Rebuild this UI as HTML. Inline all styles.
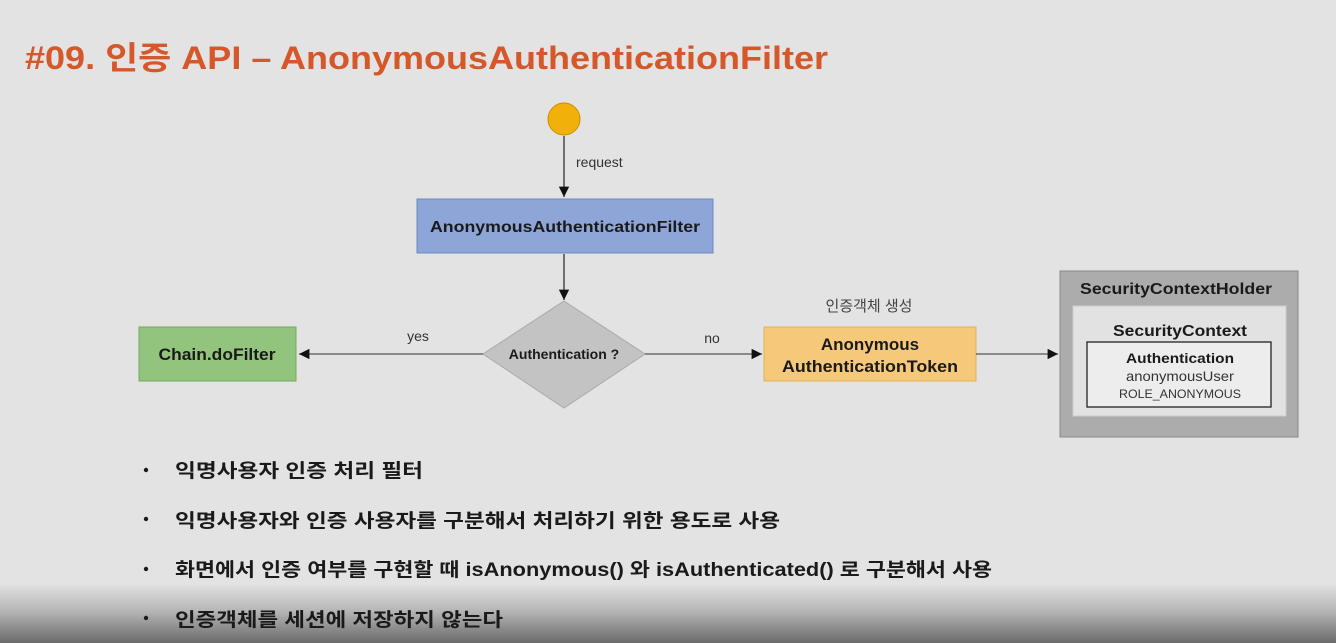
<!DOCTYPE html>
<html><head><meta charset="utf-8">
<style>
html,body{margin:0;padding:0}
body{width:1336px;height:643px;overflow:hidden;position:relative;background:#e3e3e3;font-family:"Liberation Sans","Noto Sans CJK KR",sans-serif}
svg{position:absolute;left:0;top:0}
.grad{position:absolute;left:0;top:585px;width:1336px;height:58px;background:linear-gradient(#e0e0e0,#b5b5b5 45%,#6a6a6a)}
</style></head><body>
<div class="grad"></div>
<svg width="1336" height="643" viewBox="0 0 1336 643" font-family="Liberation Sans, Noto Sans CJK KR, sans-serif">
<defs><marker id="a" viewBox="0 0 10 10" refX="10" refY="5" markerWidth="8" markerHeight="8" orient="auto"><path d="M0,0L10,5L0,10z" fill="#111"/></marker></defs>
<text x="25" y="69" font-size="32" font-weight="bold" fill="#d4582a" textLength="803" lengthAdjust="spacingAndGlyphs">#09. 인증 API – AnonymousAuthenticationFilter</text>
<circle cx="564" cy="119" r="16" fill="#f2b10a" stroke="#c98f00"/>
<line x1="564" y1="136" x2="564" y2="197" stroke="#333" stroke-width="1.3" marker-end="url(#a)"/>
<text x="576" y="167" font-size="14" fill="#333">request</text>
<rect x="417" y="199" width="296" height="54" fill="#8ea5d8" stroke="#6f88c4"/>
<text x="565" y="232" font-size="16" font-weight="bold" fill="#1a1a1a" text-anchor="middle" textLength="270" lengthAdjust="spacingAndGlyphs">AnonymousAuthenticationFilter</text>
<line x1="564" y1="254" x2="564" y2="300" stroke="#333" stroke-width="1.3" marker-end="url(#a)"/>
<polygon points="564,301 645,354 564,408 483,354" fill="#c3c3c3" stroke="#aaa"/>
<text x="564" y="359" font-size="14" font-weight="bold" fill="#1a1a1a" text-anchor="middle">Authentication ?</text>
<line x1="483" y1="354" x2="299" y2="354" stroke="#555" stroke-width="1.3" marker-end="url(#a)"/>
<text x="418" y="341" font-size="14" fill="#333" text-anchor="middle">yes</text>
<rect x="139" y="327" width="157" height="54" fill="#92c47d" stroke="#76a862"/>
<text x="217" y="360" font-size="17" font-weight="bold" fill="#1a1a1a" text-anchor="middle" textLength="117" lengthAdjust="spacingAndGlyphs">Chain.doFilter</text>
<line x1="645" y1="354" x2="762" y2="354" stroke="#555" stroke-width="1.3" marker-end="url(#a)"/>
<text x="712" y="343" font-size="14" fill="#333" text-anchor="middle">no</text>
<text x="869" y="311" font-size="15" fill="#444" text-anchor="middle">인증객체 생성</text>
<rect x="764" y="327" width="212" height="54" fill="#f6c97a" stroke="#e2b05a"/>
<text x="870" y="350" font-size="17" font-weight="bold" fill="#1a1a1a" text-anchor="middle">Anonymous</text>
<text x="870" y="372" font-size="17" font-weight="bold" fill="#1a1a1a" text-anchor="middle" textLength="176" lengthAdjust="spacingAndGlyphs">AuthenticationToken</text>
<line x1="976" y1="354" x2="1058" y2="354" stroke="#555" stroke-width="1.3" marker-end="url(#a)"/>
<rect x="1060" y="271" width="238" height="166" fill="#acacac" stroke="#888"/>
<text x="1176" y="294" font-size="16" font-weight="bold" fill="#1a1a1a" text-anchor="middle" textLength="192" lengthAdjust="spacingAndGlyphs">SecurityContextHolder</text>
<rect x="1073" y="306" width="213" height="110" fill="#e2e2e2" stroke="#ccc"/>
<text x="1180" y="336" font-size="16" font-weight="bold" fill="#1a1a1a" text-anchor="middle" textLength="134" lengthAdjust="spacingAndGlyphs">SecurityContext</text>
<rect x="1087" y="342" width="184" height="65" fill="#ededed" stroke="#222" stroke-width="1.3"/>
<text x="1180" y="363" font-size="14" font-weight="bold" fill="#1a1a1a" text-anchor="middle" textLength="108" lengthAdjust="spacingAndGlyphs">Authentication</text>
<text x="1180" y="381" font-size="14" fill="#333" text-anchor="middle" textLength="108" lengthAdjust="spacingAndGlyphs">anonymousUser</text>
<text x="1180" y="398" font-size="12" fill="#333" text-anchor="middle" textLength="122" lengthAdjust="spacingAndGlyphs">ROLE_ANONYMOUS</text>
<g fill="#1a1a1a" font-weight="bold" font-size="19">
<circle cx="146" cy="470" r="2.2"/><circle cx="146" cy="519" r="2.2"/><circle cx="146" cy="569" r="2.2"/><circle cx="146" cy="618" r="2.2"/>
<text x="175" y="477" textLength="248" lengthAdjust="spacingAndGlyphs">익명사용자 인증 처리 필터</text>
<text x="175" y="527" textLength="605" lengthAdjust="spacingAndGlyphs">익명사용자와 인증 사용자를 구분해서 처리하기 위한 용도로 사용</text>
<text x="175" y="576" textLength="817" lengthAdjust="spacingAndGlyphs">화면에서 인증 여부를 구현할 때 isAnonymous() 와 isAuthenticated() 로 구분해서 사용</text>
<text x="175" y="626" textLength="328" lengthAdjust="spacingAndGlyphs">인증객체를 세션에 저장하지 않는다</text>
</g>
</svg>
</body></html>
